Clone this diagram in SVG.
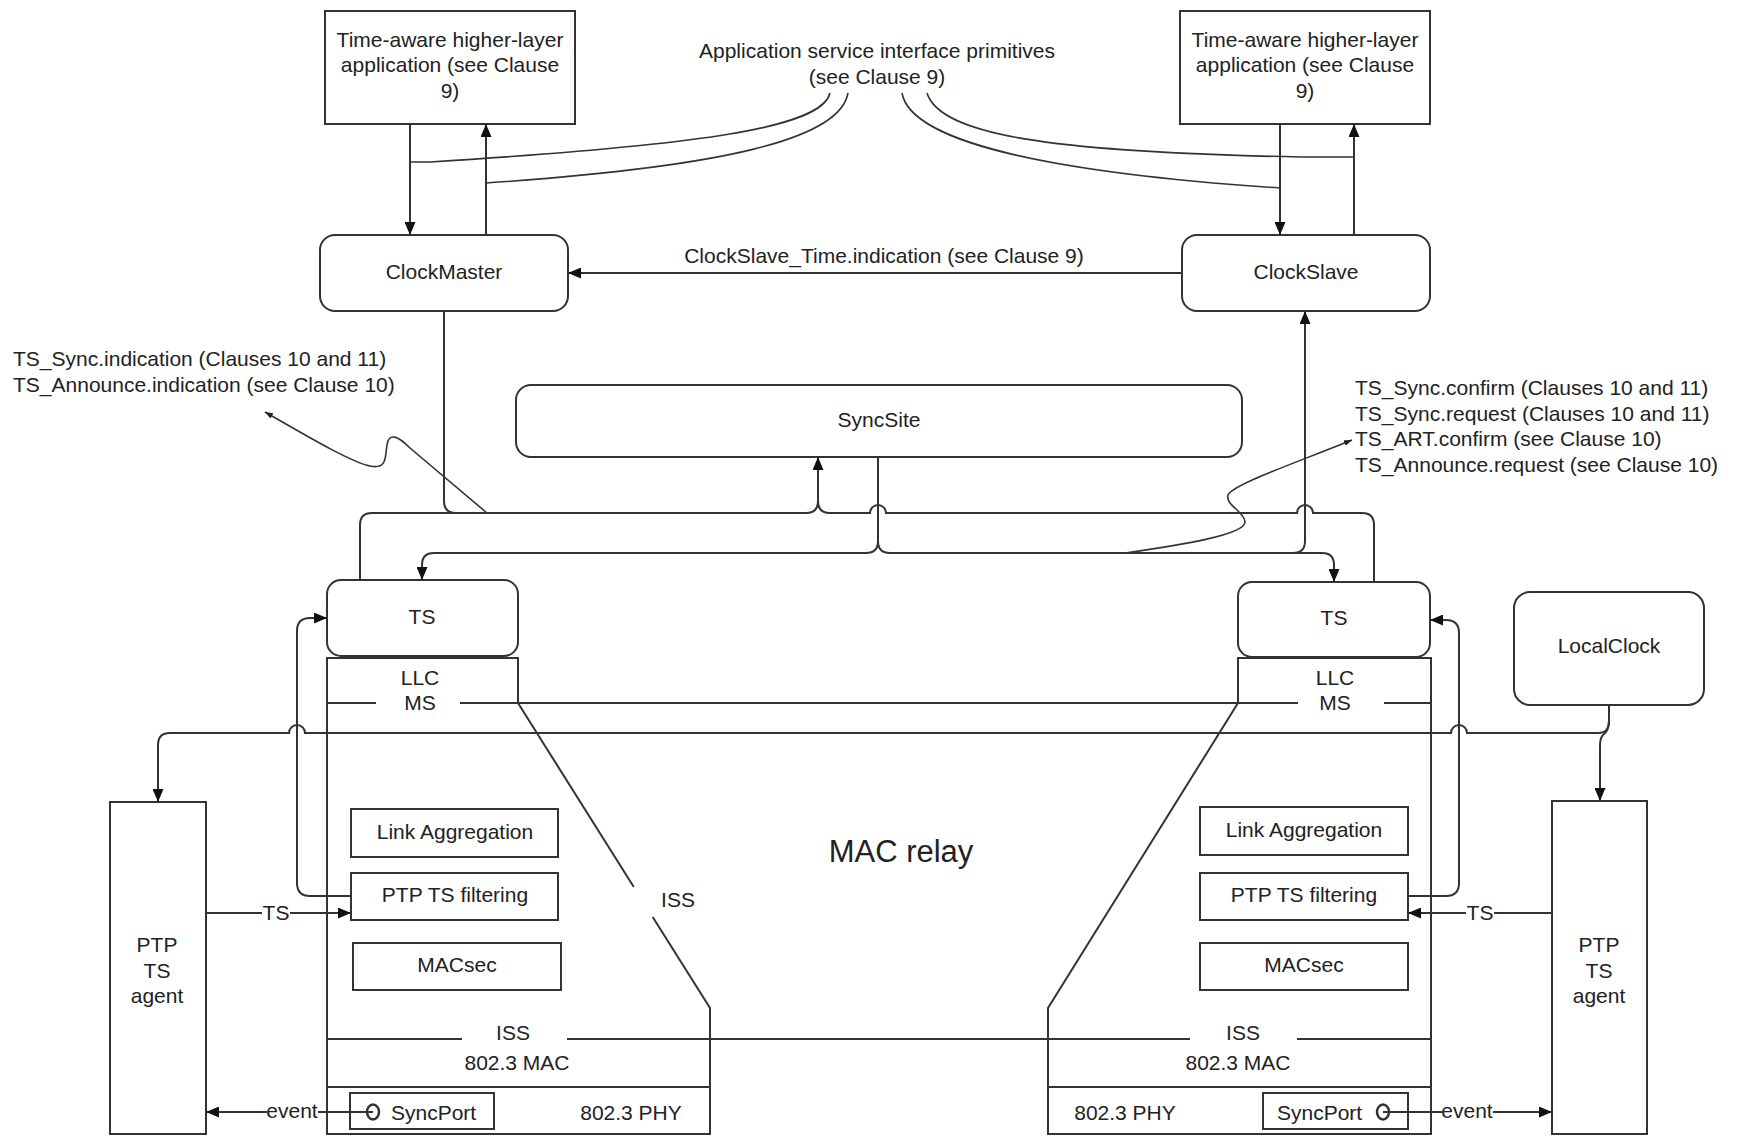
<svg xmlns="http://www.w3.org/2000/svg" width="1737" height="1137" viewBox="0 0 1737 1137">
<defs>
<style>
.ln{fill:none;stroke:#333;stroke-width:2}
.bx{fill:#fff;stroke:#333;stroke-width:2}
.nb{fill:none;stroke:#333;stroke-width:2}
.an{fill:none;stroke:#333;stroke-width:1.6}
text{font-family:"Liberation Sans",Arial,Helvetica,sans-serif;font-size:21px;fill:#222}
.c{text-anchor:middle}
</style>
<marker id="ar" viewBox="0 0 13 11" refX="13" refY="5.5" markerWidth="13" markerHeight="11" markerUnits="userSpaceOnUse" orient="auto">
<path d="M0,0 L13,5.5 L0,11 Z" fill="#111"/>
</marker>
<marker id="sa" viewBox="0 0 8 6" refX="8" refY="3" markerWidth="8" markerHeight="6" markerUnits="userSpaceOnUse" orient="auto">
<path d="M0,0 L8,3 L0,6 Z" fill="#222"/>
</marker>
</defs>
<rect width="1737" height="1137" fill="#fff"/>

<g id="app_left">
<rect class="bx" x="325" y="11" width="250" height="113"/>
<text class="c" x="450" y="47">Time-aware higher-layer</text>
<text class="c" x="450" y="72">application (see Clause</text>
<text class="c" x="450" y="98">9)</text>
</g>
<g id="app_right">
<rect class="bx" x="1180" y="11" width="250" height="113"/>
<text class="c" x="1305" y="47">Time-aware higher-layer</text>
<text class="c" x="1305" y="72">application (see Clause</text>
<text class="c" x="1305" y="98">9)</text>
</g>
<g id="clockmaster">
<rect class="bx" x="320" y="235" width="248" height="76" rx="15"/>
<text class="c" x="444" y="279">ClockMaster</text>
</g>
<g id="clockslave">
<rect class="bx" x="1182" y="235" width="248" height="76" rx="15"/>
<text class="c" x="1306" y="279">ClockSlave</text>
</g>
<g id="syncsite">
<rect class="bx" x="516" y="385" width="726" height="72" rx="15"/>
<text class="c" x="879" y="427">SyncSite</text>
</g>
<g id="ts_left">
<rect class="bx" x="327" y="580" width="191" height="76" rx="14"/>
<text class="c" x="422" y="624">TS</text>
</g>
<g id="ts_right">
<rect class="bx" x="1238" y="582" width="192" height="75" rx="14"/>
<text class="c" x="1334" y="625">TS</text>
</g>
<g id="localclock">
<rect class="bx" x="1514" y="592" width="190" height="113" rx="16"/>
<text class="c" x="1609" y="653">LocalClock</text>
</g>

<g id="stack_left">
<path class="nb" d="M652.7,917 L710,1008 V1134 H327 V658 H518 V703 L633.8,887"/>
<path class="nb" d="M327,703 H376 M327,1087 H710"/>
<text class="c" x="420" y="685">LLC</text>
<text class="c" x="420" y="710">MS</text>
<text class="c" x="513" y="1040">ISS</text>
<text class="c" x="517" y="1070">802.3 MAC</text>
<text class="c" x="631" y="1120">802.3 PHY</text>
<text class="c" x="678" y="907">ISS</text>
</g>
<g id="stack_right">
<path class="nb" d="M1238,658 H1431 V1134 H1048 V1008 L1238,703 Z"/>
<path class="nb" d="M1384,703 H1431 M1048,1087 H1431"/>
<text class="c" x="1335" y="685">LLC</text>
<text class="c" x="1335" y="710">MS</text>
<text class="c" x="1243" y="1040">ISS</text>
<text class="c" x="1238" y="1070">802.3 MAC</text>
<text class="c" x="1125" y="1120">802.3 PHY</text>
</g>
<g id="mac_relay">
<text class="c" x="901" y="862" style="font-size:31px">MAC relay</text>
</g>

<g id="linkagg_left">
<rect class="nb" x="351" y="809" width="207" height="48"/>
<text class="c" x="455" y="839">Link Aggregation</text>
</g>
<g id="ptpfilter_left">
<rect class="nb" x="351" y="873" width="207" height="47"/>
<text class="c" x="455" y="902">PTP TS filtering</text>
</g>
<g id="macsec_left">
<rect class="nb" x="353" y="943" width="208" height="47"/>
<text class="c" x="457" y="972">MACsec</text>
</g>
<g id="syncport_left">
<rect class="nb" x="350" y="1093" width="144" height="36"/>
<ellipse class="nb" cx="373" cy="1112" rx="6" ry="7.5" style="stroke-width:2.5"/>
<text x="391" y="1120">SyncPort</text>
</g>
<g id="linkagg_right">
<rect class="nb" x="1200" y="807" width="208" height="48"/>
<text class="c" x="1304" y="837">Link Aggregation</text>
</g>
<g id="ptpfilter_right">
<rect class="nb" x="1200" y="873" width="208" height="47"/>
<text class="c" x="1304" y="902">PTP TS filtering</text>
</g>
<g id="macsec_right">
<rect class="nb" x="1200" y="943" width="208" height="47"/>
<text class="c" x="1304" y="972">MACsec</text>
</g>
<g id="syncport_right">
<rect class="nb" x="1263" y="1093" width="145" height="36"/>
<ellipse class="nb" cx="1383" cy="1112" rx="6" ry="7.5" style="stroke-width:2.5"/>
<text x="1277" y="1120">SyncPort</text>
</g>
<g id="agent_left">
<rect class="bx" x="110" y="802" width="96" height="332"/>
<text class="c" x="157" y="952">PTP</text>
<text class="c" x="157" y="978">TS</text>
<text class="c" x="157" y="1003">agent</text>
</g>
<g id="agent_right">
<rect class="bx" x="1552" y="801" width="95" height="333"/>
<text class="c" x="1599" y="952">PTP</text>
<text class="c" x="1599" y="978">TS</text>
<text class="c" x="1599" y="1003">agent</text>
</g>

<g id="labels">
<text class="c" x="877" y="58">Application service interface primitives</text>
<text class="c" x="877" y="84">(see Clause 9)</text>
<text class="c" x="884" y="263">ClockSlave_Time.indication (see Clause 9)</text>
<text x="13" y="366">TS_Sync.indication (Clauses 10 and 11)</text>
<text x="13" y="392">TS_Announce.indication (see Clause 10)</text>
<text x="1355" y="395">TS_Sync.confirm (Clauses 10 and 11)</text>
<text x="1355" y="421">TS_Sync.request (Clauses 10 and 11)</text>
<text x="1355" y="446">TS_ART.confirm (see Clause 10)</text>
<text x="1355" y="472">TS_Announce.request (see Clause 10)</text>
<text class="c" x="276" y="920">TS</text>
<text class="c" x="1480" y="920">TS</text>
<text class="c" x="292" y="1118">event</text>
<text class="c" x="1467" y="1118">event</text>
</g>

<g id="connectors">
<path class="ln" d="M410,124 V235" marker-end="url(#ar)"/>
<path class="ln" d="M486,235 V124" marker-end="url(#ar)"/>
<path class="ln" d="M1280,124 V235" marker-end="url(#ar)"/>
<path class="ln" d="M1354,235 V124" marker-end="url(#ar)"/>
<path class="ln" d="M1182,273 H568" marker-end="url(#ar)"/>
<path class="an" d="M830,93 C822,128 700,145 430,162 L410,162"/>
<path class="an" d="M848,93 C840,140 720,167 486,183"/>
<path class="an" d="M902,93 C910,140 1040,172 1280,188"/>
<path class="an" d="M927,93 C940,135 1050,152 1300,157 L1354,157"/>
<path class="ln" d="M444,311 V501 Q444,513 456,513"/>
<path class="ln" d="M360,580 V525 Q360,513 372,513 H806 Q818,513 818,501 V457" marker-end="url(#ar)"/>
<path class="ln" d="M1374,582 V525 Q1374,513 1362,513 H1313 A8,8 0 0 0 1297,513 H886 A8,8 0 0 0 870,513 H830 Q818,513 818,501"/>
<path class="ln" d="M878,457 V541 Q878,553 866,553 H434 Q422,553 422,565 V580" marker-end="url(#ar)"/>
<path class="ln" d="M878,541 Q878,553 890,553 H1322 Q1334,553 1334,565 V582" marker-end="url(#ar)"/>
<path class="ln" d="M1293,553 Q1305,553 1305,541 V311" marker-end="url(#ar)"/>
<path class="an" d="M487,513 L410,448 C398,436 389,432 387,445 C385,455 388,470 370,466 C350,462 300,432 265,412" marker-end="url(#sa)"/>
<path class="an" d="M1125,553 C1180,545 1245,535 1245,522 C1245,512 1225,505 1228,495 C1232,485 1290,465 1352,440" marker-end="url(#sa)"/>
<path class="ln" d="M460,703 H1298"/>
<path class="ln" d="M327,1039 H462 M567,1039 H1190 M1297,1039 H1431"/>
<path class="ln" d="M350,896 H310 Q297,896 297,883 V631 Q297,618 310,618 H327" marker-end="url(#ar)"/>
<path class="ln" d="M1408,896 H1446 Q1459,896 1459,883 V633 Q1459,620 1446,620 H1430" marker-end="url(#ar)"/>
<path class="ln" d="M1609,705 V722 Q1609,733 1598,733 H1467 A8,8 0 0 0 1451,733 H305 A8,8 0 0 0 289,733 H170 Q158,733 158,745 V802" marker-end="url(#ar)"/>
<path class="ln" d="M1609,720 Q1609,731 1603,735 Q1600,738 1600,746 V801" marker-end="url(#ar)"/>
<path class="ln" d="M206,913 H262 M290,913 H351" />
<path class="ln" d="M290,913 H351" marker-end="url(#ar)"/>
<path class="ln" d="M1552,913 H1494 M1466,913 H1408"/>
<path class="ln" d="M1466,913 H1408" marker-end="url(#ar)"/>
<path class="ln" d="M373,1112 H318 M267,1112 H206"/>
<path class="ln" d="M267,1112 H206" marker-end="url(#ar)"/>
<path class="ln" d="M1383,1112 H1442 M1493,1112 H1552"/>
<path class="ln" d="M1493,1112 H1552" marker-end="url(#ar)"/>
</g>
</svg>
